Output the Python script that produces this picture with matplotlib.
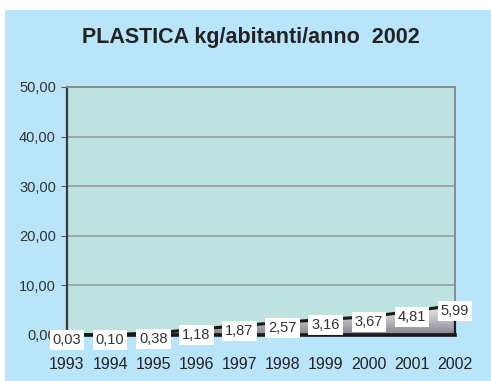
import numpy as np
import matplotlib
matplotlib.use("Agg")
import matplotlib.pyplot as plt
from matplotlib.patches import Rectangle, Polygon
from matplotlib.colors import LinearSegmentedColormap
from matplotlib.ticker import FuncFormatter

plt.rcParams['font.family'] = ['Liberation Sans', 'DejaVu Sans']

# ---------------- Data ----------------
years = [1993, 1994, 1995, 1996, 1997, 1998, 1999, 2000, 2001, 2002]
kg_per_inhabitant = [0.03, 0.10, 0.38, 1.18, 1.87, 2.57, 3.16, 3.67, 4.81, 5.99]
y_ticks = [0, 10, 20, 30, 40, 50]
title = "PLASTICA kg/abitanti/anno  2002"

# ---------------- Figure ----------------
fig = plt.figure(figsize=(4.91, 3.81), dpi=100)
fig.patch.set_facecolor("white")
# light blue panel behind the chart
fig.add_artist(Rectangle((5 / 491, 0), 1 - 5 / 491, 1 - 10 / 381,
                         transform=fig.transFigure, fc="#b9e5fa", ec="none", zorder=0))

ax = fig.add_axes([67 / 491, 1 - 335 / 381, 388 / 491, 248 / 381])
ax.set_facecolor("#bde2df")
ax.set_xlim(years[0], years[-1])
ax.set_ylim(0, 50)

# gridlines
ax.set_yticks(y_ticks)
ax.yaxis.grid(True, color="#9a9a9a", lw=1.2)
ax.set_axisbelow(True)

# area with grey gradient
pts = list(zip(years, kg_per_inhabitant)) + [(years[-1], 0), (years[0], 0)]
poly = Polygon(pts, closed=True, fc="none", ec="none")
ax.add_patch(poly)
grad = np.linspace(1, 0, 256).reshape(-1, 1)
grey_cmap = LinearSegmentedColormap.from_list("grey_fade", ["#85858f", "#f2f2f4"])
img = ax.imshow(grad, extent=[years[0], years[-1], 0, max(kg_per_inhabitant)],
                aspect="auto", cmap=grey_cmap, origin="upper", zorder=2)
img.set_clip_path(poly)

ax.plot(years, kg_per_inhabitant, color="#1a1a1a", lw=2.2, zorder=3, clip_on=False)
ax.plot([years[0], years[-1]], [0, 0], color="#1a1a1a", lw=2.6, zorder=3, clip_on=False)
ax.plot([years[-1], years[-1]], [0, kg_per_inhabitant[-1]], color="#1a1a1a", lw=1.6, zorder=3,
        clip_on=False)

# value labels
for x, v in zip(years, kg_per_inhabitant):
    ax.annotate(f"{v:.2f}".replace(".", ","), (x, v), xytext=(0, -4),
                textcoords="offset points", ha="center", va="center",
                fontsize=10.5, color="#333333", zorder=5, annotation_clip=False,
                bbox=dict(fc="white", ec="none", pad=2.2))

# spines
for s in ["top", "right"]:
    ax.spines[s].set_color("#8a8a8a")
    ax.spines[s].set_linewidth(1.4)
ax.spines["left"].set_color("#3a3a3a")
ax.spines["left"].set_linewidth(1.6)
ax.spines["bottom"].set_visible(False)

ax.yaxis.set_major_formatter(FuncFormatter(lambda v, p: f"{v:.2f}".replace(".", ",")))
ax.tick_params(axis="y", length=4, color="#555555", labelsize=10.5, labelcolor="#333333", pad=4)
ax.set_xticks(years)
ax.tick_params(axis="x", length=0, labelsize=11.5, labelcolor="#222222", pad=16)

fig.text(251 / 491, 1 - 37 / 381, title, ha="center", va="center",
         fontsize=15.5, fontweight="bold", color="#222222")

fig.savefig("out.png", dpi=100)
